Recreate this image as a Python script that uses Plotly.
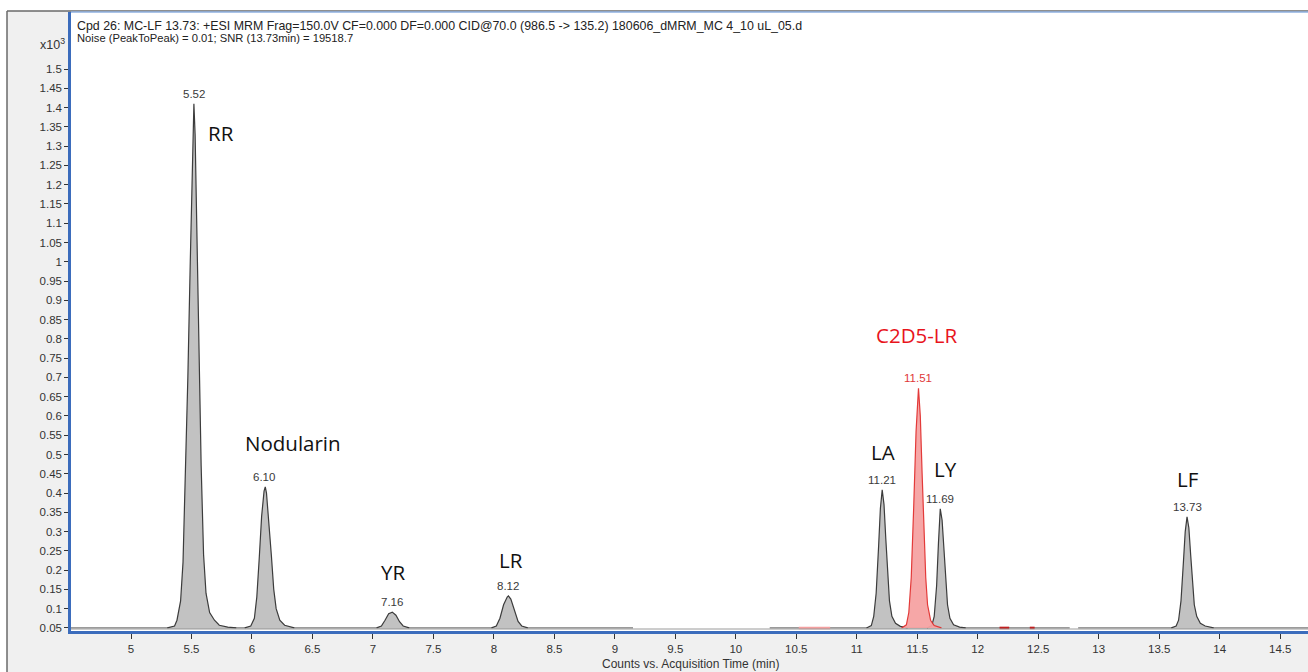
import plotly.graph_objects as go

# ---------------- data ----------------
# retention-time peaks (time in min, counts x10^3)
rr_t = [5.30, 5.36, 5.38, 5.41, 5.43, 5.45, 5.47, 5.49, 5.505, 5.515, 5.52, 5.53, 5.54, 5.555, 5.565, 5.58, 5.60, 5.62, 5.65, 5.69, 5.73, 5.80, 5.87]
rr_v = [0.05, 0.055, 0.07, 0.12, 0.22, 0.45, 0.70, 1.00, 1.25, 1.38, 1.41, 1.33, 1.15, 0.90, 0.70, 0.47, 0.24, 0.14, 0.09, 0.07, 0.057, 0.052, 0.05]

nod_t = [5.94, 5.99, 6.02, 6.04, 6.06, 6.08, 6.10, 6.11, 6.12, 6.14, 6.16, 6.18, 6.20, 6.23, 6.27, 6.35]
nod_v = [0.05, 0.055, 0.075, 0.13, 0.23, 0.34, 0.405, 0.416, 0.40, 0.33, 0.24, 0.15, 0.10, 0.07, 0.057, 0.05]

yr_t = [7.03, 7.07, 7.10, 7.13, 7.16, 7.19, 7.22, 7.25, 7.30]
yr_v = [0.05, 0.055, 0.07, 0.087, 0.091, 0.083, 0.066, 0.055, 0.05]

lr_t = [7.98, 8.02, 8.05, 8.08, 8.11, 8.12, 8.14, 8.17, 8.20, 8.23, 8.28]
lr_v = [0.05, 0.055, 0.075, 0.11, 0.13, 0.133, 0.125, 0.095, 0.067, 0.055, 0.05]

la_t = [11.08, 11.12, 11.14, 11.16, 11.18, 11.195, 11.21, 11.225, 11.24, 11.255, 11.27, 11.29, 11.32, 11.36, 11.42]
la_v = [0.05, 0.056, 0.08, 0.14, 0.26, 0.36, 0.408, 0.37, 0.28, 0.19, 0.12, 0.08, 0.062, 0.054, 0.05]

c2d5_t = [11.37, 11.41, 11.43, 11.45, 11.47, 11.49, 11.51, 11.525, 11.54, 11.555, 11.57, 11.585, 11.61, 11.64, 11.70]
c2d5_v = [0.05, 0.058, 0.09, 0.18, 0.36, 0.56, 0.672, 0.60, 0.45, 0.30, 0.18, 0.11, 0.07, 0.056, 0.05]

ly_t = [11.58, 11.62, 11.64, 11.66, 11.675, 11.69, 11.705, 11.72, 11.735, 11.75, 11.77, 11.80, 11.85, 11.90]
ly_v = [0.05, 0.056, 0.08, 0.16, 0.27, 0.359, 0.33, 0.25, 0.17, 0.11, 0.075, 0.058, 0.052, 0.05]

lf_t = [13.60, 13.64, 13.66, 13.68, 13.70, 13.715, 13.73, 13.745, 13.76, 13.775, 13.79, 13.81, 13.84, 13.88, 13.95]
lf_v = [0.05, 0.055, 0.07, 0.12, 0.22, 0.30, 0.338, 0.31, 0.24, 0.16, 0.11, 0.08, 0.062, 0.055, 0.05]

# baseline segments (start, end) at baseline level
baseline_level = 0.05
baseline_segments = [(4.50, 9.15), (10.28, 12.76), (12.83, 14.73)]
pink_baseline_segments = [(10.52, 10.78)]
red_marks = [(12.18, 12.26), (12.43, 12.47)]

peak_names = ["RR", "Nodularin", "YR", "LR", "LA", "C2D5-LR", "LY", "LF"]
peak_rt_labels = ["5.52", "6.10", "7.16", "8.12", "11.21", "11.51", "11.69", "13.73"]
peak_rt = [5.52, 6.10, 7.16, 8.12, 11.21, 11.51, 11.69, 13.73]
peak_top = [1.41, 0.416, 0.091, 0.133, 0.408, 0.672, 0.359, 0.338]
name_pos_t = [5.744, 6.339, 7.166, 8.142, 11.218, 11.499, 11.73, 13.739]
name_pos_v = [1.334, 0.530, 0.195, 0.226, 0.507, 0.810, 0.462, 0.436]

x_tickvals = [5, 5.5, 6, 6.5, 7, 7.5, 8, 8.5, 9, 9.5, 10, 10.5, 11, 11.5, 12, 12.5, 13, 13.5, 14, 14.5]
x_ticktext = ["5", "5.5", "6", "6.5", "7", "7.5", "8", "8.5", "9", "9.5", "10", "10.5", "11", "11.5", "12", "12.5", "13", "13.5", "14", "14.5"]
y_tickvals = [0.05, 0.1, 0.15, 0.2, 0.25, 0.3, 0.35, 0.4, 0.45, 0.5, 0.55, 0.6, 0.65, 0.7, 0.75,
              0.8, 0.85, 0.9, 0.95, 1.0, 1.05, 1.1, 1.15, 1.2, 1.25, 1.3, 1.35, 1.4, 1.45, 1.5]
y_ticktext = ["0.05", "0.1", "0.15", "0.2", "0.25", "0.3", "0.35", "0.4", "0.45", "0.5", "0.55", "0.6", "0.65", "0.7", "0.75",
              "0.8", "0.85", "0.9", "0.95", "1", "1.05", "1.1", "1.15", "1.2", "1.25", "1.3", "1.35", "1.4", "1.45", "1.5"]

header_line1 = "Cpd 26: MC-LF 13.73: +ESI MRM Frag=150.0V CF=0.000 DF=0.000 CID@70.0 (986.5 -> 135.2) 180606_dMRM_MC 4_10 uL_05.d"
header_line2 = "Noise (PeakToPeak) = 0.01; SNR (13.73min) = 19518.7"
x_title = "Counts vs. Acquisition Time (min)"

# ---------------- styles ----------------
GRAY_FILL = "#c2c2c2"
GRAY_LINE = "#3c3c3c"
PINK_FILL = "#f6a3a3"
RED_LINE = "#e2302f"
BLUE = "#3b6cbc"
W, H = 1308, 672
ML, MR, MT, MB = 71, 0, 12, 41

fig = go.Figure()

# baselines
for (a, b) in baseline_segments:
    fig.add_trace(go.Scatter(x=[a, b], y=[baseline_level, baseline_level], mode="lines",
                             line=dict(color="#7a7a7a", width=1.3), hoverinfo="skip"))
for (a, b) in pink_baseline_segments:
    fig.add_trace(go.Scatter(x=[a, b], y=[baseline_level, baseline_level], mode="lines",
                             line=dict(color="#f4a0a0", width=2.5), hoverinfo="skip"))
for (a, b) in red_marks:
    fig.add_trace(go.Scatter(x=[a, b], y=[baseline_level, baseline_level], mode="lines",
                             line=dict(color="#c02020", width=2.5), hoverinfo="skip"))

gray_peaks = [(rr_t, rr_v), (nod_t, nod_v), (yr_t, yr_v), (lr_t, lr_v),
              (la_t, la_v), (ly_t, ly_v), (lf_t, lf_v)]
for t, v in gray_peaks:
    fig.add_trace(go.Scatter(x=t, y=v, mode="lines", fill="toself", fillcolor=GRAY_FILL,
                             line=dict(color=GRAY_LINE, width=1.2), hoverinfo="skip"))
fig.add_trace(go.Scatter(x=c2d5_t, y=c2d5_v, mode="lines", fill="toself", fillcolor=PINK_FILL,
                         line=dict(color=RED_LINE, width=1.2), opacity=0.95, hoverinfo="skip"))

annotations = []
for name, lab, t, top, nt, nv in zip(peak_names, peak_rt_labels, peak_rt, peak_top, name_pos_t, name_pos_v):
    is_red = name == "C2D5-LR"
    annotations.append(dict(x=t, y=top, xref="x", yref="y", text=lab, showarrow=False,
                            yanchor="bottom", yshift=2,
                            font=dict(family="Liberation Sans", size=11.5,
                                      color="#e03838" if is_red else "#3a3a3a")))
    annotations.append(dict(x=nt, y=nv, xref="x", yref="y", text=name, showarrow=False,
                            xanchor="center", yanchor="middle",
                            font=dict(family="Open Sans", size=20.5,
                                      color="#e8141c" if is_red else "#111111")))

def px_x(p):
    return (p - ML) / (W - ML - MR)

def px_y(p):
    return (H - MB - p) / (H - MT - MB)

annotations += [
    dict(x=px_x(75), y=px_y(17), xref="paper", yref="paper", text=header_line1, showarrow=False,
         xanchor="left", yanchor="top", font=dict(family="Liberation Sans", size=12.4, color="#222")),
    dict(x=px_x(75), y=px_y(30), xref="paper", yref="paper", text=header_line2, showarrow=False,
         xanchor="left", yanchor="top", font=dict(family="Liberation Sans", size=11.2, color="#222")),
    dict(x=px_x(67), y=px_y(44), xref="paper", yref="paper", text="x10<sup>3</sup>", showarrow=False,
         xanchor="right", yanchor="middle", font=dict(family="Liberation Sans", size=12.5, color="#333")),
    dict(x=px_x(690), y=px_y(664), xref="paper", yref="paper", text=x_title, showarrow=False,
         xanchor="center", yanchor="middle", font=dict(family="Liberation Sans", size=12, color="#333")),
]

shapes = [
    # white outside the gray frame
    dict(type="rect", xref="paper", yref="paper", x0=px_x(0), x1=px_x(7), y0=px_y(H), y1=px_y(0),
         fillcolor="white", line=dict(width=0), layer="below"),
    dict(type="rect", xref="paper", yref="paper", x0=px_x(0), x1=px_x(W), y0=px_y(11), y1=px_y(0),
         fillcolor="white", line=dict(width=0), layer="below"),
    # frame lines
    dict(type="line", xref="paper", yref="paper", x0=px_x(7), x1=px_x(7), y0=px_y(H), y1=px_y(11),
         line=dict(color="#6a6a6a", width=1.5)),
    dict(type="line", xref="paper", yref="paper", x0=px_x(7), x1=px_x(W), y0=px_y(11), y1=px_y(11),
         line=dict(color="#6a6a6a", width=1.5)),
    # top blue edge of plot area
    dict(type="line", xref="paper", yref="paper", x0=0, x1=1, y0=1, y1=1,
         line=dict(color="#8fb0e0", width=1.5)),
    # gray line above blue x-axis
    dict(type="line", xref="paper", yref="paper", x0=0, x1=1, y0=px_y(629), y1=px_y(629),
         line=dict(color="#9a9a9a", width=1)),
]

fig.update_layout(
    width=W, height=H,
    margin=dict(l=ML, r=MR, t=MT, b=MB, pad=0),
    paper_bgcolor="#f0f0f0", plot_bgcolor="white",
    showlegend=False,
    annotations=annotations, shapes=shapes,
    xaxis=dict(range=[4.504, 14.73], tickvals=x_tickvals, ticktext=x_ticktext,
               showgrid=False, zeroline=False, showline=True, linecolor=BLUE, linewidth=2.5,
               ticks="outside", ticklen=5, tickcolor="#333", tickwidth=1,
               tickfont=dict(family="Liberation Sans", size=11.5, color="#333")),
    yaxis=dict(range=[0.042, 1.648], tickvals=y_tickvals, ticktext=y_ticktext,
               showgrid=False, zeroline=False, showline=True, linecolor=BLUE, linewidth=2.5,
               ticks="outside", ticklen=4, tickcolor="#333", tickwidth=1,
               tickfont=dict(family="Liberation Sans", size=11.5, color="#333")),
)

fig.write_html("out.html")
